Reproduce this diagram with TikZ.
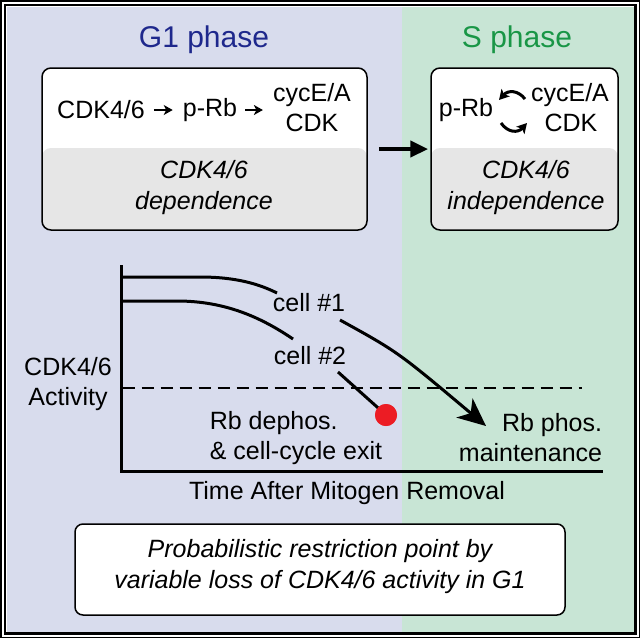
\documentclass[tikz,border=0pt]{standalone}
\usepackage{fontspec}
\setmainfont{Liberation Sans}
\usetikzlibrary{arrows.meta}
\definecolor{gbg}{RGB}{216,220,237}
\definecolor{sbg}{RGB}{200,229,213}
\definecolor{gtitle}{RGB}{30,40,140}
\definecolor{stitle}{RGB}{25,150,70}
\definecolor{boxgray}{RGB}{230,230,230}
\definecolor{dotred}{RGB}{236,28,36}
\tikzset{
  txt/.style={inner sep=0pt, font=\fontsize{25}{30}\selectfont},
  itxt/.style={inner sep=0pt, font=\fontsize{25}{31}\selectfont\itshape, align=center},
  ttl/.style={inner sep=0pt, font=\fontsize{30}{36}\selectfont},
  phasebox/.style={draw, line width=1.5pt, rounded corners=9pt, fill=white, inner sep=0pt,
    path picture={\fill[boxgray] ([yshift=1pt]path picture bounding box.east) rectangle (path picture bounding box.south west);}},
  smallarrow/.style={line width=2.2pt, -{Stealth[length=9pt,width=10pt,inset=2.5pt]}},
  circarrow/.style={line width=3pt, -{Stealth[length=10pt,width=11pt,inset=2.5pt]}},
  curve/.style={line width=3pt},
}
\begin{document}
\begin{tikzpicture}[x=1pt,y=-1pt]
\useasboundingbox (0,0) rectangle (640,638);
\fill[white] (0,0) rectangle (640,638);
\fill[gbg] (6.5,6.5) rectangle (402,631.5);
\fill[sbg] (402,6.5) rectangle (633.5,631.5);
\draw[line width=2.5pt] (4.75,4.75) rectangle (635.25,633.25);
\draw[line width=1.5pt] (0.75,0.75) rectangle (639.25,637.25);

% titles
\node[ttl, text=gtitle] (g1) at (204,40) {G1 phase};
\node[ttl, text=stitle] (sph) at (517,40) {S phase};

% boxes
\node[phasebox, minimum width=325pt, minimum height=162pt] (lbox) at (204.5,149) {};
\node[phasebox, minimum width=187pt, minimum height=162pt] (rbox) at (524.5,149) {};
\draw[line width=4.5pt, -{Triangle[length=18pt,width=16pt]}, shorten <=11pt, shorten >=2pt] (lbox.east) -- (rbox.west);

% left box content
\node[txt] (cdk) at (101,110) {CDK4/6};
\node[txt] (prb) at (210,110) {p-Rb};
\node[txt] (cyc) at (312,95) {cycE/A};
\node[txt] (cdk2) at (312,123) {CDK};
\draw[smallarrow, shorten <=9pt, shorten >=10pt] (cdk.east) -- (prb.west);
\draw[smallarrow, shorten <=8pt, shorten >=10pt] (prb.east) -- (prb.east -| cyc.west);
\node[itxt] (dep) at (204,188) {CDK4/6\\dependence};

% right box content
\node[txt] (prb2) at (466,110) {p-Rb};
\node[txt] (cyc2) at (570,95) {cycE/A};
\node[txt] (cdk3) at (571,123) {CDK};
\coordinate (ta) at (525,99);
\coordinate (tb) at (499,100);
\coordinate (ba) at (501,123);
\coordinate (bb) at (527,123);
\draw[circarrow] (ta) .. controls (518,90) and (508,90) .. (tb);
\draw[circarrow] (ba) .. controls (508,133) and (518,133) .. (bb);
\node[itxt] (indep) at (526,188) {CDK4/6\\independence};

% graph
\coordinate (ytop) at (121,265);
\coordinate (orig) at (121,471);
\coordinate (xend) at (603,471);
\draw[line width=3pt] (ytop) -- (orig) -- (xend);
\node[txt, align=center] (ylab) at (68,384) {CDK4/6\\Activity};
\node[txt] (xlab) at (347,493) {Time After Mitogen Removal};

\coordinate (dl) at (122.5,388);
\coordinate (dr) at (582,388);
\draw[line width=1.5pt, dash pattern=on 12pt off 7pt] (dl) -- (dr);

\draw[curve] (123,277) -- (200,277) .. controls (236,277) and (259,284) .. (277,293);
\draw[curve] (123,301) -- (177,301) .. controls (226,301) and (262,318) .. (293,339);

\node[txt] (c1) at (309,303) {cell \#1};
\node[txt] (c2) at (310,356) {cell \#2};

\coordinate (a1s) at (340,320);
\coordinate (a1e) at (486,426);
\draw[line width=3pt, -{Stealth[length=28pt,width=25pt,inset=8pt]}] (a1s) .. controls (398,352) .. (a1e);

\node[circle, fill=dotred, minimum size=22pt, inner sep=0pt] (dot) at (386,415) {};
\coordinate (a2s) at (338,372);
\draw[line width=3pt] (a2s) -- (dot.center);
\fill[dotred] (dot) circle (11pt);

\node[txt, align=left] (exit) at (296,438) {Rb dephos.\\\& cell-cycle exit};
\node[txt, align=right] (maint) at (530.5,438) {Rb phos.\\maintenance};

% bottom box
\node[draw, line width=1.5pt, rounded corners=8pt, fill=white, minimum width=490pt, minimum height=91pt] (bbox) at (320,569.5) {};
\node[itxt] (concl) at (320,566.5) {Probabilistic restriction point by\\variable loss of CDK4/6 activity in G1};
\end{tikzpicture}
\end{document}
